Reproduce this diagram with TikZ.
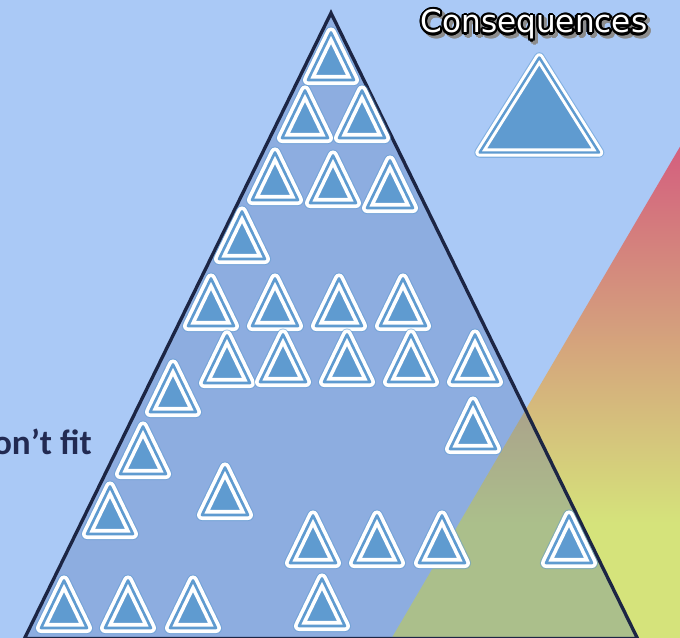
\documentclass[tikz,border=0pt]{standalone}
\usepackage{fontspec}
\setsansfont{DejaVu Sans}
\newfontfamily\calfont{Carlito}
\usepackage{tikz}
\usetikzlibrary{calc}
\definecolor{skyback}{HTML}{AAC9F6}
\definecolor{tblue}{HTML}{5F9BD0}
\definecolor{navy}{HTML}{1C2544}
\definecolor{ink}{HTML}{222A52}
\definecolor{veil}{HTML}{4D6EB0}
\definecolor{warmtop}{HTML}{D45F7E}
\definecolor{warmbot}{HTML}{D5E37B}

\tikzset{
  triglow/.style={draw=tblue,draw opacity=0.55,line width=6.9pt,line join=round},
  trishape/.style={draw=white,double=tblue,line width=2.1pt,
                   double distance=1.5pt,fill=tblue,line join=round},
  warn/.pic={
    \draw[triglow]  (-23,-5) -- (23,-5) -- (0,-52.5) -- cycle;
    \draw[trishape] (-23,-5) -- (23,-5) -- (0,-52.5) -- cycle;
  }
}

\begin{document}
\begin{tikzpicture}[
  x=0.02cm, y=-0.02cm,
  bigglow/.style={draw=tblue,draw opacity=0.55,line width=6pt,line join=round},
  bigshape/.style={draw=white,double=tblue,line width=1.7pt,
                   double distance=1.4pt,fill=tblue,line join=round},
  constext/.style={font=\sffamily\fontsize{17.7}{20}\selectfont,
                   inner sep=0pt,anchor=base}
]
  \useasboundingbox (0,0) rectangle (680,638);
  \clip (0,0) rectangle (680,638);
  \fill[skyback] (0,0) rectangle (680,638);

  \shade[top color=warmtop,bottom color=warmbot,middle color=warmbot]
    (680,146.7) -- (238,900) -- (680,900) -- cycle;

  \filldraw[fill=veil,fill opacity=0.3,draw=navy,line width=1.9pt]
    (331,13) -- (637.5,638.5) -- (24.5,638.5) -- cycle;

  \pic at (331,85)  {warn};
  \pic at (305,143) {warn};
  \pic at (362,143) {warn};
  \pic at (275,205) {warn};
  \pic at (333,208) {warn};
  \pic at (390,213) {warn};
  \pic at (242,264) {warn};
  \pic at (211,331) {warn};
  \pic at (275,331) {warn};
  \pic at (339,331) {warn};
  \pic at (403,331) {warn};
  \pic at (227,388) {warn};
  \pic at (283,387) {warn};
  \pic at (347,387) {warn};
  \pic at (411,387) {warn};
  \pic at (475,387) {warn};
  \pic at (173,417) {warn};
  \pic at (473,454) {warn};
  \pic at (143,479) {warn};
  \pic at (225,520) {warn};
  \pic at (110,539) {warn};
  \pic at (313,568) {warn};
  \pic at (377,568) {warn};
  \pic at (442,568) {warn};
  \pic at (569,568) {warn};
  \pic at (64,633)  {warn};
  \pic at (128,633) {warn};
  \pic at (193,633) {warn};
  \pic at (322,631) {warn};

  \draw[bigglow]  (479.6,152.5) -- (599,152.5) -- (539.3,57.5) -- cycle;
  \draw[bigshape] (479.6,152.5) -- (599,152.5) -- (539.3,57.5) -- cycle;

  \foreach \a [count=\k] in {0,20,...,340}
    \node[constext,text=black!45] (consshade\k)
      at ({537+2.2*cos(\a)},{36+2.2*sin(\a)}) {Consequences};
  \foreach \a [count=\k] in {0,20,...,340}
    \node[constext,text=black] (consrim\k)
      at ({534+2.2*cos(\a)},{33+2.2*sin(\a)}) {Consequences};
  \node[constext,text=white] (cons) at (534,33) {Consequences};

  \node[font=\calfont\bfseries\fontsize{20}{24}\selectfont,text=ink,
        anchor=base east,inner sep=0pt] (misfit) at (92,455) {on’t fit};
\end{tikzpicture}
\end{document}
